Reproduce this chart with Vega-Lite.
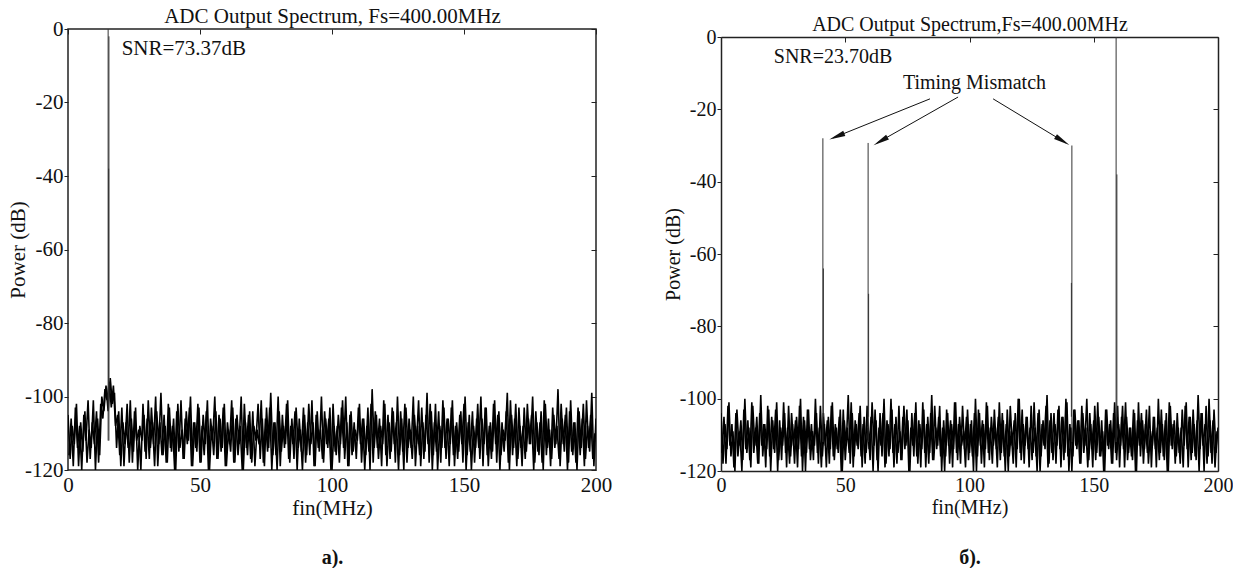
{
"$schema": "https://vega.github.io/schema/vega-lite/v6.json",
"background": "white",
"padding": {"left": 6, "top": 4, "right": 0, "bottom": 0},
"config": {
  "font": "Liberation Serif",
  "view": {"stroke": "#222", "strokeWidth": 1.5},
  "axis": {"domain": false, "grid": false, "labelColor": "#111", "titleColor": "#111", "labelFont": "Liberation Serif", "titleFont": "Liberation Serif", "titleFontWeight": "normal", "tickColor": "#222", "domainColor": "#222", "domainWidth": 1.5, "labelFlush": false, "labelOverlap": false},
  "title": {"font": "Liberation Serif"}
},
"spacing": 50,
"datasets": {
"noiseA": [
{"f":0,"d":-105},{"f":0.8,"d":-117},{"f":1.6,"d":-108},{"f":2.4,"d":-113},{"f":3.2,"d":-102},{"f":4,"d":-119},{"f":4.8,"d":-107},{"f":5.6,"d":-115},{"f":6.4,"d":-104},{"f":7.2,"d":-118},
{"f":8,"d":-109},{"f":8.8,"d":-114},{"f":9.6,"d":-101},{"f":10.4,"d":-120},{"f":11.2,"d":-106},{"f":12,"d":-116},{"f":12.8,"d":-100},{"f":13.6,"d":-104},{"f":14.4,"d":-97},{"f":15.2,"d":-104},
{"f":16,"d":-95},{"f":16.8,"d":-102},{"f":17.6,"d":-99},{"f":18.4,"d":-114},{"f":19.2,"d":-104},{"f":20,"d":-119},{"f":20.8,"d":-107},{"f":21.6,"d":-113},{"f":22.4,"d":-102},{"f":23.2,"d":-118},
{"f":24,"d":-106},{"f":24.8,"d":-115},{"f":25.6,"d":-103},{"f":26.4,"d":-120},{"f":27.2,"d":-108},{"f":28,"d":-112},{"f":28.8,"d":-105},{"f":29.6,"d":-117},{"f":30.4,"d":-101},{"f":31.2,"d":-114},
{"f":32,"d":-107},{"f":32.8,"d":-119},{"f":33.6,"d":-104},{"f":34.4,"d":-113},{"f":35.2,"d":-99},{"f":36,"d":-116},{"f":36.8,"d":-108},{"f":37.6,"d":-118},{"f":38.4,"d":-103},{"f":39.2,"d":-115},
{"f":40,"d":-106},{"f":40.8,"d":-120},{"f":41.6,"d":-102},{"f":42.4,"d":-114},{"f":43.2,"d":-109},{"f":44,"d":-117},{"f":44.8,"d":-104},{"f":45.6,"d":-112},{"f":46.4,"d":-100},{"f":47.2,"d":-119},
{"f":48,"d":-107},{"f":48.8,"d":-115},{"f":49.6,"d":-103},{"f":50.4,"d":-118},{"f":51.2,"d":-105},{"f":52,"d":-113},{"f":52.8,"d":-101},{"f":53.6,"d":-120},{"f":54.4,"d":-108},{"f":55.2,"d":-116},
{"f":56,"d":-104},{"f":56.8,"d":-117},{"f":57.6,"d":-106},{"f":58.4,"d":-114},{"f":59.2,"d":-102},{"f":60,"d":-119},{"f":60.8,"d":-109},{"f":61.6,"d":-115},{"f":62.4,"d":-103},{"f":63.2,"d":-118},
{"f":64,"d":-105},{"f":64.8,"d":-113},{"f":65.6,"d":-100},{"f":66.4,"d":-120},{"f":67.2,"d":-107},{"f":68,"d":-116},{"f":68.8,"d":-104},{"f":69.6,"d":-118},{"f":70.4,"d":-108},{"f":71.2,"d":-112},
{"f":72,"d":-102},{"f":72.8,"d":-117},{"f":73.6,"d":-106},{"f":74.4,"d":-119},{"f":75.2,"d":-103},{"f":76,"d":-114},{"f":76.8,"d":-99},{"f":77.6,"d":-116},{"f":78.4,"d":-107},{"f":79.2,"d":-120},
{"f":80,"d":-104},{"f":80.8,"d":-115},{"f":81.6,"d":-108},{"f":82.4,"d":-113},{"f":83.2,"d":-101},{"f":84,"d":-118},{"f":84.8,"d":-106},{"f":85.6,"d":-117},{"f":86.4,"d":-103},{"f":87.2,"d":-114},
{"f":88,"d":-109},{"f":88.8,"d":-120},{"f":89.6,"d":-105},{"f":90.4,"d":-116},{"f":91.2,"d":-102},{"f":92,"d":-113},{"f":92.8,"d":-107},{"f":93.6,"d":-119},{"f":94.4,"d":-104},{"f":95.2,"d":-115},
{"f":96,"d":-100},{"f":96.8,"d":-118},{"f":97.6,"d":-106},{"f":98.4,"d":-114},{"f":99.2,"d":-103},{"f":100,"d":-120},{"f":100.8,"d":-108},{"f":101.6,"d":-116},{"f":102.4,"d":-105},{"f":103.2,"d":-113},
{"f":104,"d":-101},{"f":104.8,"d":-117},{"f":105.6,"d":-107},{"f":106.4,"d":-119},{"f":107.2,"d":-104},{"f":108,"d":-115},{"f":108.8,"d":-109},{"f":109.6,"d":-112},{"f":110.4,"d":-102},{"f":111.2,"d":-118},
{"f":112,"d":-106},{"f":112.8,"d":-116},{"f":113.6,"d":-103},{"f":114.4,"d":-120},{"f":115.2,"d":-98},{"f":116,"d":-114},{"f":116.8,"d":-105},{"f":117.6,"d":-117},{"f":118.4,"d":-108},{"f":119.2,"d":-113},
{"f":120,"d":-102},{"f":120.8,"d":-119},{"f":121.6,"d":-107},{"f":122.4,"d":-115},{"f":123.2,"d":-104},{"f":124,"d":-118},{"f":124.8,"d":-100},{"f":125.6,"d":-116},{"f":126.4,"d":-106},{"f":127.2,"d":-120},
{"f":128,"d":-103},{"f":128.8,"d":-114},{"f":129.6,"d":-109},{"f":130.4,"d":-117},{"f":131.2,"d":-105},{"f":132,"d":-113},{"f":132.8,"d":-101},{"f":133.6,"d":-119},{"f":134.4,"d":-107},{"f":135.2,"d":-115},
{"f":136,"d":-99},{"f":136.8,"d":-118},{"f":137.6,"d":-104},{"f":138.4,"d":-116},{"f":139.2,"d":-102},{"f":140,"d":-120},{"f":140.8,"d":-108},{"f":141.6,"d":-114},{"f":142.4,"d":-103},{"f":143.2,"d":-117},
{"f":144,"d":-106},{"f":144.8,"d":-113},{"f":145.6,"d":-101},{"f":146.4,"d":-119},{"f":147.2,"d":-107},{"f":148,"d":-115},{"f":148.8,"d":-104},{"f":149.6,"d":-118},{"f":150.4,"d":-100},{"f":151.2,"d":-116},
{"f":152,"d":-105},{"f":152.8,"d":-120},{"f":153.6,"d":-108},{"f":154.4,"d":-114},{"f":155.2,"d":-102},{"f":156,"d":-117},{"f":156.8,"d":-106},{"f":157.6,"d":-113},{"f":158.4,"d":-103},{"f":159.2,"d":-119},
{"f":160,"d":-107},{"f":160.8,"d":-115},{"f":161.6,"d":-101},{"f":162.4,"d":-118},{"f":163.2,"d":-104},{"f":164,"d":-116},{"f":164.8,"d":-109},{"f":165.6,"d":-112},{"f":166.4,"d":-99},{"f":167.2,"d":-120},
{"f":168,"d":-105},{"f":168.8,"d":-114},{"f":169.6,"d":-102},{"f":170.4,"d":-117},{"f":171.2,"d":-108},{"f":172,"d":-119},{"f":172.8,"d":-103},{"f":173.6,"d":-115},{"f":174.4,"d":-106},{"f":175.2,"d":-113},
{"f":176,"d":-100},{"f":176.8,"d":-118},{"f":177.6,"d":-107},{"f":178.4,"d":-116},{"f":179.2,"d":-104},{"f":180,"d":-120},{"f":180.8,"d":-102},{"f":181.6,"d":-114},{"f":182.4,"d":-109},{"f":183.2,"d":-117},
{"f":184,"d":-105},{"f":184.8,"d":-113},{"f":185.6,"d":-98},{"f":186.4,"d":-119},{"f":187.2,"d":-106},{"f":188,"d":-115},{"f":188.8,"d":-103},{"f":189.6,"d":-118},{"f":190.4,"d":-101},{"f":191.2,"d":-116},
{"f":192,"d":-107},{"f":192.8,"d":-120},{"f":193.6,"d":-104},{"f":194.4,"d":-114},{"f":195.2,"d":-102},{"f":196,"d":-117},{"f":196.8,"d":-108},{"f":197.6,"d":-115},{"f":198.4,"d":-99},{"f":199.2,"d":-119},
{"f":200,"d":-106}
],
"noiseA2": [
{"f":0.4,"d":-116},{"f":1.2,"d":-106},{"f":2,"d":-119},{"f":2.8,"d":-103},{"f":3.6,"d":-114},{"f":4.4,"d":-108},{"f":5.2,"d":-120},{"f":6,"d":-105},{"f":6.8,"d":-112},{"f":7.6,"d":-101},
{"f":8.4,"d":-117},{"f":9.2,"d":-107},{"f":10,"d":-113},{"f":10.8,"d":-104},{"f":11.6,"d":-118},{"f":12.4,"d":-102},{"f":13.2,"d":-106},{"f":14,"d":-98},{"f":14.8,"d":-101},{"f":15.6,"d":-96},
{"f":16.4,"d":-103},{"f":17.2,"d":-97},{"f":18,"d":-108},{"f":18.8,"d":-105},{"f":19.6,"d":-116},{"f":20.4,"d":-103},{"f":21.2,"d":-119},{"f":22,"d":-107},{"f":22.8,"d":-114},{"f":23.6,"d":-101},
{"f":24.4,"d":-118},{"f":25.2,"d":-104},{"f":26,"d":-112},{"f":26.8,"d":-109},{"f":27.6,"d":-120},{"f":28.4,"d":-102},{"f":29.2,"d":-115},{"f":30,"d":-106},{"f":30.8,"d":-117},{"f":31.6,"d":-103},
{"f":32.4,"d":-113},{"f":33.2,"d":-100},{"f":34,"d":-119},{"f":34.8,"d":-107},{"f":35.6,"d":-116},{"f":36.4,"d":-105},{"f":37.2,"d":-118},{"f":38,"d":-102},{"f":38.8,"d":-114},{"f":39.6,"d":-108},
{"f":40.4,"d":-120},{"f":41.2,"d":-104},{"f":42,"d":-115},{"f":42.8,"d":-101},{"f":43.6,"d":-117},{"f":44.4,"d":-106},{"f":45.2,"d":-113},{"f":46,"d":-103},{"f":46.8,"d":-119},{"f":47.6,"d":-107},
{"f":48.4,"d":-114},{"f":49.2,"d":-102},{"f":50,"d":-118},{"f":50.8,"d":-108},{"f":51.6,"d":-116},{"f":52.4,"d":-104},{"f":53.2,"d":-120},{"f":54,"d":-106},{"f":54.8,"d":-112},{"f":55.6,"d":-100},
{"f":56.4,"d":-117},{"f":57.2,"d":-105},{"f":58,"d":-115},{"f":58.8,"d":-103},{"f":59.6,"d":-119},{"f":60.4,"d":-107},{"f":61.2,"d":-113},{"f":62,"d":-101},{"f":62.8,"d":-118},{"f":63.6,"d":-106},
{"f":64.4,"d":-116},{"f":65.2,"d":-108},{"f":66,"d":-120},{"f":66.8,"d":-102},{"f":67.6,"d":-114},{"f":68.4,"d":-105},{"f":69.2,"d":-117},{"f":70,"d":-104},{"f":70.8,"d":-119},{"f":71.6,"d":-109},
{"f":72.4,"d":-113},{"f":73.2,"d":-101},{"f":74,"d":-118},{"f":74.8,"d":-106},{"f":75.6,"d":-115},{"f":76.4,"d":-103},{"f":77.2,"d":-120},{"f":78,"d":-107},{"f":78.8,"d":-116},{"f":79.6,"d":-100},
{"f":80.4,"d":-119},{"f":81.2,"d":-105},{"f":82,"d":-114},{"f":82.8,"d":-102},{"f":83.6,"d":-117},{"f":84.4,"d":-108},{"f":85.2,"d":-113},{"f":86,"d":-104},{"f":86.8,"d":-120},{"f":87.6,"d":-106},
{"f":88.4,"d":-115},{"f":89.2,"d":-103},{"f":90,"d":-118},{"f":90.8,"d":-107},{"f":91.6,"d":-116},{"f":92.4,"d":-101},{"f":93.2,"d":-119},{"f":94,"d":-105},{"f":94.8,"d":-114},{"f":95.6,"d":-109},
{"f":96.4,"d":-117},{"f":97.2,"d":-104},{"f":98,"d":-113},{"f":98.8,"d":-106},{"f":99.6,"d":-120},{"f":100.4,"d":-102},{"f":101.2,"d":-115},{"f":102,"d":-108},{"f":102.8,"d":-118},{"f":103.6,"d":-103},
{"f":104.4,"d":-114},{"f":105.2,"d":-100},{"f":106,"d":-119},{"f":106.8,"d":-105},{"f":107.6,"d":-116},{"f":108.4,"d":-107},{"f":109.2,"d":-117},{"f":110,"d":-103},{"f":110.8,"d":-113},{"f":111.6,"d":-106},
{"f":112.4,"d":-120},{"f":113.2,"d":-108},{"f":114,"d":-115},{"f":114.8,"d":-102},{"f":115.6,"d":-118},{"f":116.4,"d":-104},{"f":117.2,"d":-114},{"f":118,"d":-106},{"f":118.8,"d":-119},{"f":119.6,"d":-101},
{"f":120.4,"d":-116},{"f":121.2,"d":-105},{"f":122,"d":-117},{"f":122.8,"d":-103},{"f":123.6,"d":-113},{"f":124.4,"d":-107},{"f":125.2,"d":-120},{"f":126,"d":-104},{"f":126.8,"d":-115},{"f":127.6,"d":-102},
{"f":128.4,"d":-118},{"f":129.2,"d":-106},{"f":130,"d":-114},{"f":130.8,"d":-100},{"f":131.6,"d":-119},{"f":132.4,"d":-108},{"f":133.2,"d":-116},{"f":134,"d":-103},{"f":134.8,"d":-117},{"f":135.6,"d":-105},
{"f":136.4,"d":-113},{"f":137.2,"d":-102},{"f":138,"d":-120},{"f":138.8,"d":-107},{"f":139.6,"d":-115},{"f":140.4,"d":-104},{"f":141.2,"d":-118},{"f":142,"d":-101},{"f":142.8,"d":-114},{"f":143.6,"d":-106},
{"f":144.4,"d":-119},{"f":145.2,"d":-103},{"f":146,"d":-116},{"f":146.8,"d":-108},{"f":147.6,"d":-117},{"f":148.4,"d":-105},{"f":149.2,"d":-113},{"f":150,"d":-102},{"f":150.8,"d":-120},{"f":151.6,"d":-107},
{"f":152.4,"d":-115},{"f":153.2,"d":-104},{"f":154,"d":-118},{"f":154.8,"d":-106},{"f":155.6,"d":-114},{"f":156.4,"d":-100},{"f":157.2,"d":-119},{"f":158,"d":-103},{"f":158.8,"d":-116},{"f":159.6,"d":-108},
{"f":160.4,"d":-117},{"f":161.2,"d":-102},{"f":162,"d":-113},{"f":162.8,"d":-105},{"f":163.6,"d":-120},{"f":164.4,"d":-107},{"f":165.2,"d":-115},{"f":166,"d":-104},{"f":166.8,"d":-118},{"f":167.6,"d":-101},
{"f":168.4,"d":-116},{"f":169.2,"d":-106},{"f":170,"d":-119},{"f":170.8,"d":-103},{"f":171.6,"d":-114},{"f":172.4,"d":-108},{"f":173.2,"d":-117},{"f":174,"d":-102},{"f":174.8,"d":-113},{"f":175.6,"d":-105},
{"f":176.4,"d":-120},{"f":177.2,"d":-104},{"f":178,"d":-115},{"f":178.8,"d":-107},{"f":179.6,"d":-118},{"f":180.4,"d":-101},{"f":181.2,"d":-116},{"f":182,"d":-106},{"f":182.8,"d":-119},{"f":183.6,"d":-103},
{"f":184.4,"d":-114},{"f":185.2,"d":-108},{"f":186,"d":-117},{"f":186.8,"d":-102},{"f":187.6,"d":-113},{"f":188.4,"d":-105},{"f":189.2,"d":-120},{"f":190,"d":-104},{"f":190.8,"d":-115},{"f":191.6,"d":-107},
{"f":192.4,"d":-118},{"f":193.2,"d":-103},{"f":194,"d":-116},{"f":194.8,"d":-106},{"f":195.6,"d":-119},{"f":196.4,"d":-101},{"f":197.2,"d":-114},{"f":198,"d":-105},{"f":198.8,"d":-117},{"f":199.6,"d":-110}
],
"noiseB": [
{"f":0,"d":-104},{"f":0.8,"d":-118},{"f":1.6,"d":-107},{"f":2.4,"d":-114},{"f":3.2,"d":-101},{"f":4,"d":-116},{"f":4.8,"d":-109},{"f":5.6,"d":-120},{"f":6.4,"d":-103},{"f":7.2,"d":-113},
{"f":8,"d":-106},{"f":8.8,"d":-117},{"f":9.6,"d":-100},{"f":10.4,"d":-115},{"f":11.2,"d":-108},{"f":12,"d":-119},{"f":12.8,"d":-102},{"f":13.6,"d":-113},{"f":14.4,"d":-105},{"f":15.2,"d":-118},
{"f":16,"d":-99},{"f":16.8,"d":-116},{"f":17.6,"d":-107},{"f":18.4,"d":-114},{"f":19.2,"d":-103},{"f":20,"d":-120},{"f":20.8,"d":-106},{"f":21.6,"d":-115},{"f":22.4,"d":-101},{"f":23.2,"d":-117},
{"f":24,"d":-108},{"f":24.8,"d":-113},{"f":25.6,"d":-104},{"f":26.4,"d":-119},{"f":27.2,"d":-102},{"f":28,"d":-116},{"f":28.8,"d":-107},{"f":29.6,"d":-118},{"f":30.4,"d":-105},{"f":31.2,"d":-114},
{"f":32,"d":-100},{"f":32.8,"d":-120},{"f":33.6,"d":-106},{"f":34.4,"d":-115},{"f":35.2,"d":-103},{"f":36,"d":-117},{"f":36.8,"d":-109},{"f":37.6,"d":-113},{"f":38.4,"d":-104},{"f":39.2,"d":-118},
{"f":40,"d":-102},{"f":40.8,"d":-116},{"f":41.6,"d":-107},{"f":42.4,"d":-119},{"f":43.2,"d":-105},{"f":44,"d":-114},{"f":44.8,"d":-101},{"f":45.6,"d":-117},{"f":46.4,"d":-108},{"f":47.2,"d":-115},
{"f":48,"d":-103},{"f":48.8,"d":-120},{"f":49.6,"d":-106},{"f":50.4,"d":-113},{"f":51.2,"d":-99},{"f":52,"d":-118},{"f":52.8,"d":-104},{"f":53.6,"d":-116},{"f":54.4,"d":-107},{"f":55.2,"d":-114},
{"f":56,"d":-102},{"f":56.8,"d":-119},{"f":57.6,"d":-105},{"f":58.4,"d":-115},{"f":59.2,"d":-108},{"f":60,"d":-117},{"f":60.8,"d":-101},{"f":61.6,"d":-113},{"f":62.4,"d":-106},{"f":63.2,"d":-120},
{"f":64,"d":-104},{"f":64.8,"d":-116},{"f":65.6,"d":-100},{"f":66.4,"d":-118},{"f":67.2,"d":-107},{"f":68,"d":-114},{"f":68.8,"d":-103},{"f":69.6,"d":-119},{"f":70.4,"d":-105},{"f":71.2,"d":-115},
{"f":72,"d":-109},{"f":72.8,"d":-117},{"f":73.6,"d":-102},{"f":74.4,"d":-113},{"f":75.2,"d":-106},{"f":76,"d":-120},{"f":76.8,"d":-104},{"f":77.6,"d":-116},{"f":78.4,"d":-101},{"f":79.2,"d":-118},
{"f":80,"d":-107},{"f":80.8,"d":-114},{"f":81.6,"d":-103},{"f":82.4,"d":-119},{"f":83.2,"d":-105},{"f":84,"d":-115},{"f":84.8,"d":-99},{"f":85.6,"d":-117},{"f":86.4,"d":-108},{"f":87.2,"d":-113},
{"f":88,"d":-102},{"f":88.8,"d":-120},{"f":89.6,"d":-106},{"f":90.4,"d":-116},{"f":91.2,"d":-104},{"f":92,"d":-118},{"f":92.8,"d":-107},{"f":93.6,"d":-114},{"f":94.4,"d":-101},{"f":95.2,"d":-117},
{"f":96,"d":-105},{"f":96.8,"d":-113},{"f":97.6,"d":-109},{"f":98.4,"d":-119},{"f":99.2,"d":-103},{"f":100,"d":-115},{"f":100.8,"d":-106},{"f":101.6,"d":-120},{"f":102.4,"d":-100},{"f":103.2,"d":-116},
{"f":104,"d":-104},{"f":104.8,"d":-118},{"f":105.6,"d":-107},{"f":106.4,"d":-114},{"f":107.2,"d":-102},{"f":108,"d":-117},{"f":108.8,"d":-105},{"f":109.6,"d":-113},{"f":110.4,"d":-108},{"f":111.2,"d":-119},
{"f":112,"d":-101},{"f":112.8,"d":-115},{"f":113.6,"d":-106},{"f":114.4,"d":-120},{"f":115.2,"d":-103},{"f":116,"d":-116},{"f":116.8,"d":-109},{"f":117.6,"d":-118},{"f":118.4,"d":-104},{"f":119.2,"d":-114},
{"f":120,"d":-100},{"f":120.8,"d":-117},{"f":121.6,"d":-107},{"f":122.4,"d":-113},{"f":123.2,"d":-105},{"f":124,"d":-119},{"f":124.8,"d":-102},{"f":125.6,"d":-115},{"f":126.4,"d":-108},{"f":127.2,"d":-120},
{"f":128,"d":-103},{"f":128.8,"d":-116},{"f":129.6,"d":-106},{"f":130.4,"d":-114},{"f":131.2,"d":-99},{"f":132,"d":-118},{"f":132.8,"d":-104},{"f":133.6,"d":-117},{"f":134.4,"d":-107},{"f":135.2,"d":-113},
{"f":136,"d":-102},{"f":136.8,"d":-119},{"f":137.6,"d":-105},{"f":138.4,"d":-115},{"f":139.2,"d":-101},{"f":140,"d":-120},{"f":140.8,"d":-108},{"f":141.6,"d":-116},{"f":142.4,"d":-103},{"f":143.2,"d":-114},
{"f":144,"d":-106},{"f":144.8,"d":-118},{"f":145.6,"d":-104},{"f":146.4,"d":-113},{"f":147.2,"d":-100},{"f":148,"d":-117},{"f":148.8,"d":-107},{"f":149.6,"d":-119},{"f":150.4,"d":-102},{"f":151.2,"d":-115},
{"f":152,"d":-105},{"f":152.8,"d":-116},{"f":153.6,"d":-109},{"f":154.4,"d":-120},{"f":155.2,"d":-103},{"f":156,"d":-114},{"f":156.8,"d":-106},{"f":157.6,"d":-118},{"f":158.4,"d":-101},{"f":159.2,"d":-117},
{"f":160,"d":-107},{"f":160.8,"d":-113},{"f":161.6,"d":-102},{"f":162.4,"d":-119},{"f":163.2,"d":-105},{"f":164,"d":-115},{"f":164.8,"d":-108},{"f":165.6,"d":-117},{"f":166.4,"d":-104},{"f":167.2,"d":-120},
{"f":168,"d":-101},{"f":168.8,"d":-116},{"f":169.6,"d":-106},{"f":170.4,"d":-114},{"f":171.2,"d":-103},{"f":172,"d":-118},{"f":172.8,"d":-109},{"f":173.6,"d":-113},{"f":174.4,"d":-105},{"f":175.2,"d":-119},
{"f":176,"d":-100},{"f":176.8,"d":-115},{"f":177.6,"d":-107},{"f":178.4,"d":-117},{"f":179.2,"d":-104},{"f":180,"d":-120},{"f":180.8,"d":-102},{"f":181.6,"d":-114},{"f":182.4,"d":-106},{"f":183.2,"d":-116},
{"f":184,"d":-108},{"f":184.8,"d":-118},{"f":185.6,"d":-103},{"f":186.4,"d":-113},{"f":187.2,"d":-101},{"f":188,"d":-119},{"f":188.8,"d":-105},{"f":189.6,"d":-115},{"f":190.4,"d":-107},{"f":191.2,"d":-117},
{"f":192,"d":-99},{"f":192.8,"d":-114},{"f":193.6,"d":-104},{"f":194.4,"d":-120},{"f":195.2,"d":-102},{"f":196,"d":-116},{"f":196.8,"d":-106},{"f":197.6,"d":-118},{"f":198.4,"d":-103},{"f":199.2,"d":-115},
{"f":200,"d":-108}
],
"noiseB2": [
{"f":0.4,"d":-115},{"f":1.2,"d":-105},{"f":2,"d":-118},{"f":2.8,"d":-102},{"f":3.6,"d":-113},{"f":4.4,"d":-107},{"f":5.2,"d":-119},{"f":6,"d":-104},{"f":6.8,"d":-116},{"f":7.6,"d":-109},
{"f":8.4,"d":-120},{"f":9.2,"d":-103},{"f":10,"d":-114},{"f":10.8,"d":-106},{"f":11.6,"d":-117},{"f":12.4,"d":-101},{"f":13.2,"d":-115},{"f":14,"d":-108},{"f":14.8,"d":-118},{"f":15.6,"d":-104},
{"f":16.4,"d":-113},{"f":17.2,"d":-107},{"f":18,"d":-119},{"f":18.8,"d":-102},{"f":19.6,"d":-116},{"f":20.4,"d":-105},{"f":21.2,"d":-114},{"f":22,"d":-103},{"f":22.8,"d":-120},{"f":23.6,"d":-106},
{"f":24.4,"d":-117},{"f":25.2,"d":-101},{"f":26,"d":-115},{"f":26.8,"d":-108},{"f":27.6,"d":-118},{"f":28.4,"d":-104},{"f":29.2,"d":-113},{"f":30,"d":-106},{"f":30.8,"d":-119},{"f":31.6,"d":-102},
{"f":32.4,"d":-116},{"f":33.2,"d":-105},{"f":34,"d":-120},{"f":34.8,"d":-103},{"f":35.6,"d":-114},{"f":36.4,"d":-107},{"f":37.2,"d":-117},{"f":38,"d":-100},{"f":38.8,"d":-115},{"f":39.6,"d":-108},
{"f":40.4,"d":-119},{"f":41.2,"d":-104},{"f":42,"d":-113},{"f":42.8,"d":-106},{"f":43.6,"d":-118},{"f":44.4,"d":-102},{"f":45.2,"d":-116},{"f":46,"d":-107},{"f":46.8,"d":-114},{"f":47.6,"d":-105},
{"f":48.4,"d":-120},{"f":49.2,"d":-103},{"f":50,"d":-117},{"f":50.8,"d":-108},{"f":51.6,"d":-115},{"f":52.4,"d":-101},{"f":53.2,"d":-119},{"f":54,"d":-106},{"f":54.8,"d":-113},{"f":55.6,"d":-104},
{"f":56.4,"d":-116},{"f":57.2,"d":-107},{"f":58,"d":-118},{"f":58.8,"d":-102},{"f":59.6,"d":-114},{"f":60.4,"d":-105},{"f":61.2,"d":-120},{"f":62,"d":-103},{"f":62.8,"d":-117},{"f":63.6,"d":-108},
{"f":64.4,"d":-113},{"f":65.2,"d":-104},{"f":66,"d":-119},{"f":66.8,"d":-106},{"f":67.6,"d":-116},{"f":68.4,"d":-100},{"f":69.2,"d":-115},{"f":70,"d":-107},{"f":70.8,"d":-118},{"f":71.6,"d":-102},
{"f":72.4,"d":-117},{"f":73.2,"d":-105},{"f":74,"d":-114},{"f":74.8,"d":-103},{"f":75.6,"d":-120},{"f":76.4,"d":-108},{"f":77.2,"d":-113},{"f":78,"d":-104},{"f":78.8,"d":-116},{"f":79.6,"d":-106},
{"f":80.4,"d":-119},{"f":81.2,"d":-101},{"f":82,"d":-115},{"f":82.8,"d":-107},{"f":83.6,"d":-118},{"f":84.4,"d":-104},{"f":85.2,"d":-117},{"f":86,"d":-102},{"f":86.8,"d":-114},{"f":87.6,"d":-105},
{"f":88.4,"d":-116},{"f":89.2,"d":-108},{"f":90,"d":-120},{"f":90.8,"d":-103},{"f":91.6,"d":-113},{"f":92.4,"d":-106},{"f":93.2,"d":-119},{"f":94,"d":-101},{"f":94.8,"d":-115},{"f":95.6,"d":-107},
{"f":96.4,"d":-118},{"f":97.2,"d":-102},{"f":98,"d":-114},{"f":98.8,"d":-105},{"f":99.6,"d":-117},{"f":100.4,"d":-107},{"f":101.2,"d":-116},{"f":102,"d":-104},{"f":102.8,"d":-120},{"f":103.6,"d":-103},
{"f":104.4,"d":-113},{"f":105.2,"d":-106},{"f":106,"d":-119},{"f":106.8,"d":-101},{"f":107.6,"d":-115},{"f":108.4,"d":-108},{"f":109.2,"d":-118},{"f":110,"d":-103},{"f":110.8,"d":-114},{"f":111.6,"d":-105},
{"f":112.4,"d":-117},{"f":113.2,"d":-104},{"f":114,"d":-116},{"f":114.8,"d":-107},{"f":115.6,"d":-120},{"f":116.4,"d":-102},{"f":117.2,"d":-113},{"f":118,"d":-106},{"f":118.8,"d":-119},{"f":119.6,"d":-100},
{"f":120.4,"d":-115},{"f":121.2,"d":-103},{"f":122,"d":-118},{"f":122.8,"d":-105},{"f":123.6,"d":-114},{"f":124.4,"d":-108},{"f":125.2,"d":-117},{"f":126,"d":-101},{"f":126.8,"d":-116},{"f":127.6,"d":-104},
{"f":128.4,"d":-120},{"f":129.2,"d":-107},{"f":130,"d":-113},{"f":130.8,"d":-102},{"f":131.6,"d":-119},{"f":132.4,"d":-106},{"f":133.2,"d":-115},{"f":134,"d":-104},{"f":134.8,"d":-118},{"f":135.6,"d":-103},
{"f":136.4,"d":-114},{"f":137.2,"d":-105},{"f":138,"d":-117},{"f":138.8,"d":-100},{"f":139.6,"d":-116},{"f":140.4,"d":-107},{"f":141.2,"d":-120},{"f":142,"d":-103},{"f":142.8,"d":-113},{"f":143.6,"d":-106},
{"f":144.4,"d":-118},{"f":145.2,"d":-102},{"f":146,"d":-115},{"f":146.8,"d":-108},{"f":147.6,"d":-119},{"f":148.4,"d":-104},{"f":149.2,"d":-114},{"f":150,"d":-106},{"f":150.8,"d":-117},{"f":151.6,"d":-101},
{"f":152.4,"d":-116},{"f":153.2,"d":-106},{"f":154,"d":-120},{"f":154.8,"d":-103},{"f":155.6,"d":-113},{"f":156.4,"d":-107},{"f":157.2,"d":-118},{"f":158,"d":-104},{"f":158.8,"d":-115},{"f":159.6,"d":-102},
{"f":160.4,"d":-119},{"f":161.2,"d":-105},{"f":162,"d":-114},{"f":162.8,"d":-101},{"f":163.6,"d":-117},{"f":164.4,"d":-108},{"f":165.2,"d":-116},{"f":166,"d":-103},{"f":166.8,"d":-120},{"f":167.6,"d":-106},
{"f":168.4,"d":-113},{"f":169.2,"d":-104},{"f":170,"d":-118},{"f":170.8,"d":-107},{"f":171.6,"d":-115},{"f":172.4,"d":-102},{"f":173.2,"d":-119},{"f":174,"d":-105},{"f":174.8,"d":-114},{"f":175.6,"d":-108},
{"f":176.4,"d":-117},{"f":177.2,"d":-103},{"f":178,"d":-116},{"f":178.8,"d":-106},{"f":179.6,"d":-120},{"f":180.4,"d":-101},{"f":181.2,"d":-113},{"f":182,"d":-107},{"f":182.8,"d":-118},{"f":183.6,"d":-104},
{"f":184.4,"d":-115},{"f":185.2,"d":-108},{"f":186,"d":-119},{"f":186.8,"d":-102},{"f":187.6,"d":-114},{"f":188.4,"d":-105},{"f":189.2,"d":-117},{"f":190,"d":-103},{"f":190.8,"d":-116},{"f":191.6,"d":-106},
{"f":192.4,"d":-120},{"f":193.2,"d":-104},{"f":194,"d":-113},{"f":194.8,"d":-107},{"f":195.6,"d":-118},{"f":196.4,"d":-100},{"f":197.2,"d":-115},{"f":198,"d":-106},{"f":198.8,"d":-119},{"f":199.6,"d":-109}
],
"peaksA": [
{"f":15.2,"top":0,"bot":-112},{"f":15.5,"top":-2,"bot":-112},{"f":15.4,"top":-38,"bot":-100}
],
"peaksB": [
{"f":41,"top":-28,"bot":-112},{"f":41.2,"top":-64,"bot":-105},{"f":59.2,"top":-29.3,"bot":-112},{"f":59.4,"top":-71,"bot":-105},
{"f":141.2,"top":-30,"bot":-112},{"f":141,"top":-68,"bot":-105},{"f":159,"top":0,"bot":-112},{"f":159.3,"top":-38,"bot":-105}
],
"labelsA": [{"f":43.9,"d":-5.4,"t":"SNR=73.37dB"}],
"labelsB": [{"f":45.1,"d":-5.6,"t":"SNR=23.70dB"},{"f":102,"d":-12.6,"t":"Timing Mismatch"}],
"arrows": [
{"f1":84.1,"d1":-17.1,"f2":45.1,"d2":-27.9},
{"f1":95.4,"d1":-16.6,"f2":62.8,"d2":-29.3},
{"f1":109.5,"d1":-17.1,"f2":138.8,"d2":-29.3}
],
"heads": [
{"f":46.6,"d":-27.5,"ang":248},
{"f":64.2,"d":-28.8,"ang":240},
{"f":137.4,"d":-28.7,"ang":121}
]
},
"hconcat": [
{
 "width": 528, "height": 441,
 "layer": [
  {"data": {"name": "noiseA"},
   "mark": {"type": "line", "color": "black", "strokeWidth": 1.6, "clip": true},
   "encoding": {
    "x": {"field": "f", "type": "quantitative", "scale": {"domain": [0, 200], "nice": false},
          "axis": {"orient": "bottom", "values": [0, 50, 100, 150, 200], "ticks": false, "labelPadding": 4, "labelFontSize": 21, "title": "fin(MHz)", "titleFontSize": 21, "titlePadding": 2}},
    "y": {"field": "d", "type": "quantitative", "scale": {"domain": [-120, 0], "nice": false},
          "axis": {"orient": "left", "values": [0, -20, -40, -60, -80, -100, -120], "tickSize": 4, "labelPadding": 1, "labelFontSize": 21, "labelExpr": "'' + datum.value", "title": "Power (dB)", "titleFontSize": 21, "titlePadding": -4}}
   }},
  {"data": {"name": "noiseA2"},
   "mark": {"type": "line", "color": "black", "strokeWidth": 1.6, "clip": true},
   "encoding": {
    "x": {"field": "f", "type": "quantitative", "scale": {"domain": [0, 200], "nice": false}, "axis": null},
    "y": {"field": "d", "type": "quantitative", "scale": {"domain": [-120, 0], "nice": false}, "axis": null}
   }},
  {"data": {"name": "peaksA"},
   "mark": {"type": "rule", "color": "#333", "strokeWidth": 1},
   "encoding": {
    "x": {"field": "f", "type": "quantitative", "scale": {"domain": [0, 200], "nice": false},
          "axis": {"orient": "top", "values": [0, 50, 100, 150, 200], "tickSize": -5, "labels": false, "title": "ADC Output Spectrum, Fs=400.00MHz", "titleFontSize": 21, "titlePadding": 2}},
    "y": {"field": "top", "type": "quantitative", "scale": {"domain": [-120, 0], "nice": false},
          "axis": {"orient": "right", "values": [0, -20, -40, -60, -80, -100, -120], "tickSize": -5, "labels": false, "title": null}},
    "y2": {"field": "bot"}
   }},
  {"data": {"name": "labelsA"},
   "mark": {"type": "text", "align": "center", "baseline": "middle", "fontSize": 21, "color": "#111"},
   "encoding": {
    "x": {"field": "f", "type": "quantitative", "scale": {"domain": [0, 200], "nice": false},
          "axis": {"orient": "bottom", "labels": false, "ticks": false, "title": "а).", "titleFontSize": 20, "titleFontWeight": "bold", "titlePadding": 77}},
    "y": {"field": "d", "type": "quantitative", "scale": {"domain": [-120, 0], "nice": false}, "axis": null},
    "text": {"field": "t"}
   }}
 ],
 "resolve": {"axis": {"x": "independent", "y": "independent"}}
},
{
 "width": 497, "height": 442,
 "view": {"stroke": null},
 "layer": [
  {"data": {"name": "noiseB"},
   "mark": {"type": "line", "color": "black", "strokeWidth": 1.6, "clip": true},
   "encoding": {
    "x": {"field": "f", "type": "quantitative", "scale": {"domain": [0, 200], "nice": false},
          "axis": {"orient": "bottom", "domain": true, "values": [0, 50, 100, 150, 200], "ticks": false, "labelPadding": 4, "labelFontSize": 20, "title": "fin(MHz)", "titleFontSize": 20, "titlePadding": 2}},
    "y": {"field": "d", "type": "quantitative", "scale": {"domain": [-120, 0], "nice": false, "range": [442, 8]},
          "axis": {"orient": "left", "domain": true, "values": [0, -20, -40, -60, -80, -100, -120], "tickSize": 4, "labelPadding": 1, "labelFontSize": 20, "labelExpr": "'' + datum.value", "title": "Power (dB)", "titleFontSize": 20, "titlePadding": -4}}
   }},
  {"data": {"name": "noiseB2"},
   "mark": {"type": "line", "color": "black", "strokeWidth": 1.6, "clip": true},
   "encoding": {
    "x": {"field": "f", "type": "quantitative", "scale": {"domain": [0, 200], "nice": false}, "axis": null},
    "y": {"field": "d", "type": "quantitative", "scale": {"domain": [-120, 0], "nice": false, "range": [442, 8]}, "axis": null}
   }},
  {"data": {"name": "peaksB"},
   "mark": {"type": "rule", "color": "#333", "strokeWidth": 1},
   "encoding": {
    "x": {"field": "f", "type": "quantitative", "scale": {"domain": [0, 200], "nice": false},
          "axis": {"orient": "top", "domain": true, "offset": -8, "values": [0, 50, 100, 150, 200], "tickSize": -5, "labels": false, "title": "ADC Output Spectrum,Fs=400.00MHz", "titleFontSize": 20, "titlePadding": 2}},
    "y": {"field": "top", "type": "quantitative", "scale": {"domain": [-120, 0], "nice": false, "range": [442, 8]},
          "axis": {"orient": "right", "domain": true, "values": [0, -20, -40, -60, -80, -100, -120], "tickSize": -5, "labels": false, "title": null}},
    "y2": {"field": "bot"}
   }},
  {"data": {"name": "labelsB"},
   "mark": {"type": "text", "align": "center", "baseline": "middle", "fontSize": 20, "color": "#111"},
   "encoding": {
    "x": {"field": "f", "type": "quantitative", "scale": {"domain": [0, 200], "nice": false},
          "axis": {"orient": "bottom", "labels": false, "ticks": false, "title": "б).", "titleFontSize": 20, "titleFontWeight": "bold", "titlePadding": 76}},
    "y": {"field": "d", "type": "quantitative", "scale": {"domain": [-120, 0], "nice": false, "range": [442, 8]}, "axis": null},
    "text": {"field": "t"}
   }},
  {"data": {"name": "arrows"},
   "mark": {"type": "rule", "color": "#111", "strokeWidth": 1},
   "encoding": {
    "x": {"field": "f1", "type": "quantitative", "scale": {"domain": [0, 200], "nice": false}, "axis": null},
    "y": {"field": "d1", "type": "quantitative", "scale": {"domain": [-120, 0], "nice": false, "range": [442, 8]}, "axis": null},
    "x2": {"field": "f2"},
    "y2": {"field": "d2"}
   }},
  {"data": {"name": "heads"},
   "mark": {"type": "point", "filled": true, "color": "#111", "opacity": 1, "size": 260, "shape": "M0,-1L0.35,1L-0.35,1Z"},
   "encoding": {
    "x": {"field": "f", "type": "quantitative", "scale": {"domain": [0, 200], "nice": false}, "axis": null},
    "y": {"field": "d", "type": "quantitative", "scale": {"domain": [-120, 0], "nice": false, "range": [442, 8]}, "axis": null},
    "angle": {"field": "ang", "type": "quantitative", "scale": null}
   }}
 ],
 "resolve": {"axis": {"x": "independent", "y": "independent"}}
}
]
}
